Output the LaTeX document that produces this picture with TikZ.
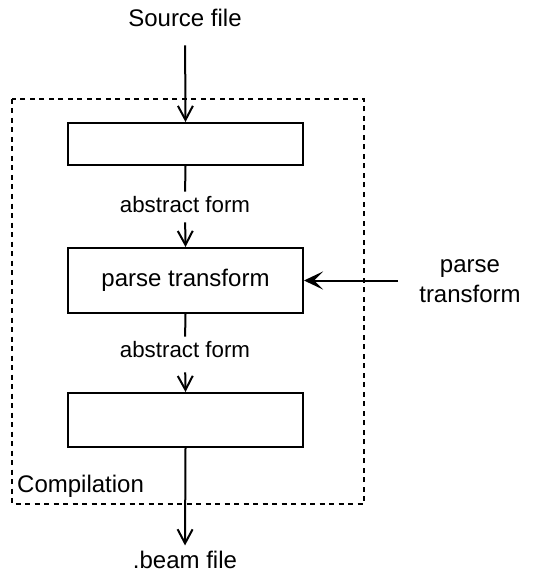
\documentclass[tikz,border=0pt]{standalone}
\usepackage{fontspec}
\setmainfont{Liberation Sans}
\usetikzlibrary{arrows.meta}
\begin{document}
\begin{tikzpicture}[x=1pt,y=-1pt,
  stepbox/.style={draw,line width=2pt,minimum width=235pt,inner sep=0pt},
  big/.style={font=\fontsize{24}{30}\selectfont,inner sep=0pt},
  small/.style={font=\fontsize{22.3}{27}\selectfont,inner sep=0pt},
  conn/.style={line width=2pt,-{Straight Barb[length=14pt,width=15pt,line width=2pt]}},
  plain/.style={line width=2pt},
  frame/.style={draw,line width=1.6pt,dash pattern=on 5pt off 4.5pt}]
\useasboundingbox (0,0) rectangle (544,577);
\draw[frame] (12,99) rectangle (364,504);
\node[big,anchor=base] (src) at (185,27) {Source file};
\node[stepbox,minimum height=42pt] (b1) at (185.5,144) {};
\node[small,anchor=base] (lab1) at (185,212) {abstract form};
\node[stepbox,minimum height=65pt,font=\fontsize{24}{30}\selectfont] (b2) at (185.5,280.5) {parse transform};
\node[small,anchor=base] (lab2) at (185,357) {abstract form};
\node[stepbox,minimum height=54pt] (b3) at (185.5,420) {};
\node[big,anchor=base] (beam) at (185,568) {.beam file};
\node[big,align=center] (pt) at (470,281) {parse\\transform};
\node[big,anchor=base west] (comp) at (17,492) {Compilation};
\draw[conn,shorten <=18pt] (src.south) -- (b1.north);
\draw[plain,shorten >=4pt] (b1.south) -- (lab1.north);
\draw[conn,shorten <=10pt] (lab1.south) -- (b2.north);
\draw[plain,shorten >=4pt] (b2.south) -- (lab2.north);
\draw[conn,shorten <=15pt] (lab2.south) -- (b3.north);
\draw[conn,shorten >=5pt] (b3.south) -- (beam.north);
\draw[line width=2pt,-{Stealth[length=19pt,width=18pt,inset=9pt]},shorten <=21pt] (pt.west |- b2.east) -- (b2.east);
\end{tikzpicture}
\end{document}
